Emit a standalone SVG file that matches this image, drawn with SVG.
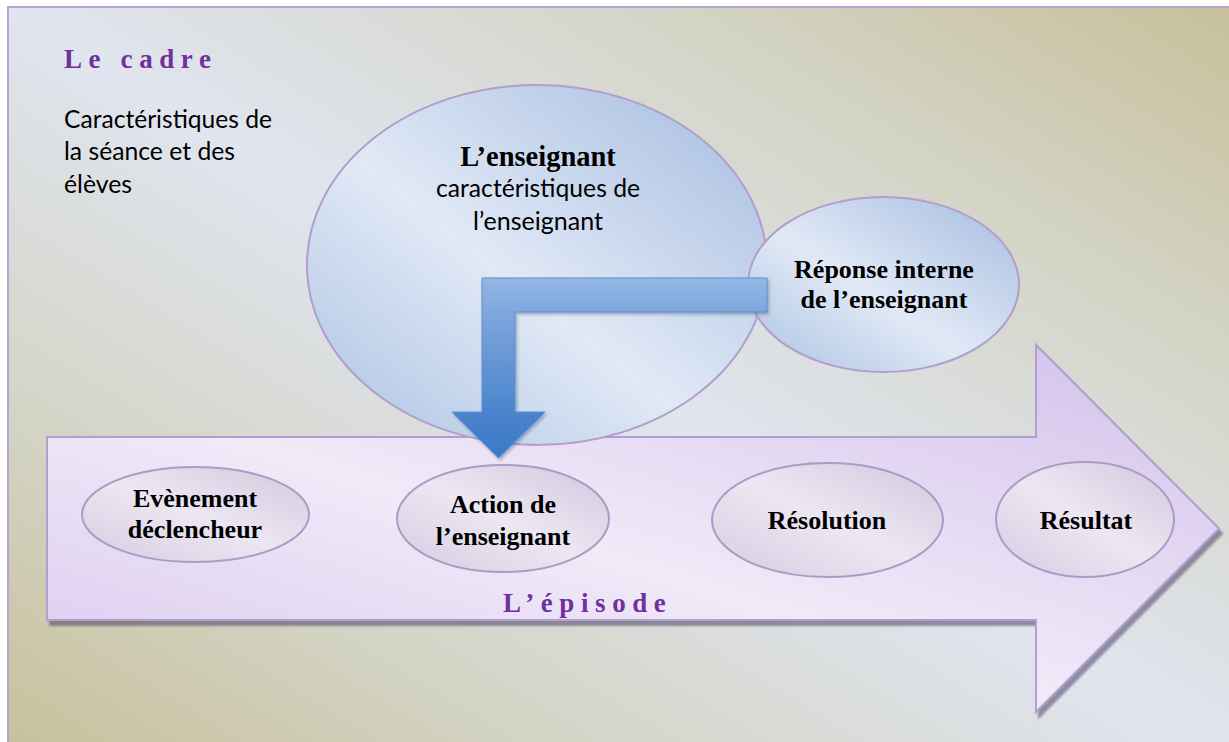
<svg xmlns="http://www.w3.org/2000/svg" width="1229" height="742" viewBox="0 0 1229 742">
<defs>
<linearGradient id="bg" x1="1" y1="0" x2="0" y2="1">
<stop offset="0" stop-color="#c7bf99"/>
<stop offset="0.22" stop-color="#d3d3c3"/>
<stop offset="0.5" stop-color="#e0e5ef"/>
<stop offset="0.78" stop-color="#d3d3c3"/>
<stop offset="1" stop-color="#c7bf99"/>
</linearGradient>
<linearGradient id="epi" x1="0" y1="1" x2="1" y2="0">
<stop offset="0" stop-color="#d9c7ee"/>
<stop offset="0.45" stop-color="#f0eaf8"/>
<stop offset="1" stop-color="#d2bfeb"/>
</linearGradient>
<linearGradient id="blue" x1="0" y1="1" x2="1" y2="0">
<stop offset="0" stop-color="#a9c1e2"/>
<stop offset="0.45" stop-color="#e1e9f6"/>
<stop offset="1" stop-color="#a3bbdf"/>
</linearGradient>
<linearGradient id="lav" x1="0" y1="1" x2="1" y2="0">
<stop offset="0" stop-color="#d6cce2"/>
<stop offset="0.5" stop-color="#ece7f2"/>
<stop offset="1" stop-color="#d2c6de"/>
</linearGradient>
<linearGradient id="bent" gradientUnits="userSpaceOnUse" x1="0" y1="278" x2="0" y2="458">
<stop offset="0" stop-color="#94b7e5"/>
<stop offset="0.2" stop-color="#7ea6dc"/>
<stop offset="0.75" stop-color="#4a84cd"/>
<stop offset="1" stop-color="#3a77c5"/>
</linearGradient>
<filter id="sh" x="-5%" y="-5%" width="112%" height="115%">
<feDropShadow dx="3" dy="5" stdDeviation="1.2" flood-color="#4e4460" flood-opacity="0.55"/>
</filter>
<filter id="sh2" x="-10%" y="-10%" width="125%" height="125%">
<feDropShadow dx="1.5" dy="2" stdDeviation="1.5" flood-color="#203050" flood-opacity="0.35"/>
</filter>
</defs>
<style>
.ser{font-family:"Liberation Serif","Times New Roman",serif;font-weight:bold;fill:#000;text-anchor:middle;font-size:26px}
.sans{font-family:Lato,"Open Sans",sans-serif;fill:#000;font-size:25px}
.ttl{font-family:"Liberation Serif","Times New Roman",serif;font-weight:bold;fill:#7030a0;font-size:27px;letter-spacing:6.6px}
.inner{fill:url(#lav);stroke:#ab9bc6;stroke-width:2}
.bl{fill:url(#blue);stroke:#b39dca;stroke-width:2}
</style>
<g id="background">
<rect x="8" y="7" width="1240" height="760" fill="url(#bg)" stroke="#b6a5d3" stroke-width="2"/>
</g>
<g id="cadre">
<text class="ttl" x="64" y="68">Le cadre</text>
<text class="sans" x="64" y="128" textLength="208" lengthAdjust="spacingAndGlyphs">Caractéristiques de</text>
<text class="sans" x="64" y="160" textLength="171" lengthAdjust="spacingAndGlyphs">la séance et des</text>
<text class="sans" x="64" y="193" textLength="68" lengthAdjust="spacingAndGlyphs">élèves</text>
</g>
<g id="episode">
<polygon points="47,437 1036,437 1036,345 1219,528.5 1036,712 1036,620 47,620" fill="url(#epi)" stroke="#b09fd0" stroke-width="2" filter="url(#sh)"/>
<text class="ttl" x="503" y="612">L’épisode</text>
</g>
<g id="evenement">
<ellipse class="inner" cx="195.5" cy="514.5" rx="113.5" ry="47.5"/>
<text class="ser" x="195" y="507">Evènement</text>
<text class="ser" x="195" y="538">déclencheur</text>
</g>
<g id="action">
<ellipse class="inner" cx="503" cy="518.5" rx="106" ry="53.5"/>
<text class="ser" x="503" y="513">Action de</text>
<text class="ser" x="503" y="545">l’enseignant</text>
</g>
<g id="resolution">
<ellipse class="inner" cx="827.5" cy="520" rx="115.5" ry="57"/>
<text class="ser" x="827" y="529">Résolution</text>
</g>
<g id="resultat">
<ellipse class="inner" cx="1085" cy="519.5" rx="89" ry="57.5"/>
<text class="ser" x="1086" y="529">Résultat</text>
</g>
<g id="enseignant">
<ellipse class="bl" cx="537" cy="265" rx="230" ry="180"/>
<text class="ser" x="538" y="166" style="font-size:28.5px">L’enseignant</text>
<text class="sans" x="538" y="197" text-anchor="middle" textLength="204" lengthAdjust="spacingAndGlyphs">caractéristiques de</text>
<text class="sans" x="538" y="230" text-anchor="middle" textLength="130" lengthAdjust="spacingAndGlyphs">l’enseignant</text>
</g>
<g id="reponse">
<ellipse class="bl" cx="883.5" cy="284.5" rx="135.5" ry="87.5"/>
<text class="ser" x="884" y="278">Réponse interne</text>
<text class="ser" x="884" y="308">de l’enseignant</text>
</g>
<g id="connectors">
<polygon points="482,278 767,278 767,312 515,312 515,412 545,412 498.5,458 452,412 482,412" fill="url(#bent)" stroke="#5d8fd2" stroke-width="1" filter="url(#sh2)"/>
</g>
</svg>
